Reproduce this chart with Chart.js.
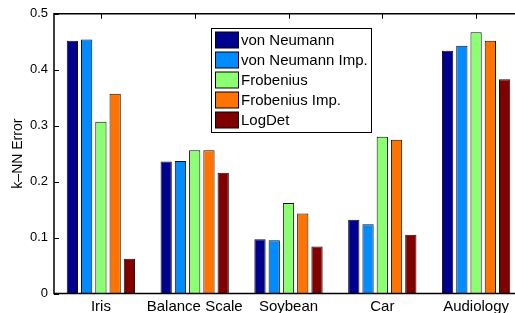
<!DOCTYPE html>
<html lang="en">
<head>
  <meta charset="UTF-8">
  <title>k-NN Error by dataset</title>
  <script src="https://cdn.jsdelivr.net/npm/chart.js"></script>
  <style>
    html, body { margin: 0; padding: 0; overflow: hidden; background: #fff; }
  </style>
</head>
<body>
  <canvas id="errChart"></canvas>

  <script>
    // data
    const datasetNames = ['Iris', 'Balance Scale', 'Soybean', 'Car', 'Audiology'];
    const seriesNames = ['von Neumann', 'von Neumann Imp.', 'Frobenius', 'Frobenius Imp.', 'LogDet'];
    const vonNeumann    = [0.452, 0.236, 0.097, 0.132, 0.434];
    const vonNeumannImp = [0.454, 0.237, 0.095, 0.124, 0.443];
    const frobenius     = [0.307, 0.256, 0.162, 0.280, 0.467];
    const frobeniusImp  = [0.357, 0.256, 0.143, 0.275, 0.452];
    const logDet        = [0.062, 0.216, 0.084, 0.105, 0.383];
    const yTicks = [0, 0.1, 0.2, 0.3, 0.4, 0.5];

    const seriesColors = ['#00008f', '#008cff', '#8cff73', '#ff7300', '#800000'];
    const FONT = '"Liberation Sans", Arial, Helvetica, sans-serif';

    const canvas = document.getElementById('errChart');
    canvas.width = 530;
    canvas.height = 313;
    canvas.style.width = '530px';
    canvas.style.height = '313px';

    // matlab-like box: axis lines plus inward ticks
    const axesBox = {
      id: 'axesBox',
      afterDatasetsDraw(chart) {
        const ctx = chart.ctx;
        const a = chart.chartArea;
        const xs = chart.scales.x;
        const ys = chart.scales.y;
        ctx.save();
        ctx.strokeStyle = '#000';
        ctx.lineWidth = 1.5;
        ctx.beginPath();
        ctx.moveTo(a.right, a.top);
        ctx.lineTo(a.left, a.top);
        ctx.lineTo(a.left, a.bottom);
        ctx.lineTo(a.right, a.bottom);
        ctx.stroke();

        ctx.lineWidth = 1;
        ctx.beginPath();
        yTicks.forEach(v => {
          const y = Math.round(ys.getPixelForValue(v)) + 0.5;
          ctx.moveTo(a.left, y);
          ctx.lineTo(a.left + 5, y);
        });
        datasetNames.forEach((_, i) => {
          const x = Math.round(xs.getPixelForTick(i)) + 0.5;
          ctx.moveTo(x, a.top);
          ctx.lineTo(x, a.top + 5);
        });
        ctx.stroke();
        ctx.restore();
      }
    };

    // legend box in the upper middle of the axes
    const boxLegend = {
      id: 'boxLegend',
      afterDraw(chart) {
        const ctx = chart.ctx;
        const bx = 211.5, by = 28.5, bw = 160, bh = 104;
        ctx.save();
        ctx.fillStyle = '#fff';
        ctx.fillRect(bx, by, bw, bh);
        ctx.strokeStyle = '#000';
        ctx.lineWidth = 1;
        ctx.strokeRect(bx, by, bw, bh);

        ctx.font = '15px ' + FONT;
        ctx.textBaseline = 'middle';
        ctx.textAlign = 'left';
        chart.data.datasets.forEach((ds, i) => {
          const cy = 40 + i * 20;
          ctx.fillStyle = ds.backgroundColor;
          ctx.fillRect(215.5, cy - 8, 23, 16);
          ctx.strokeStyle = '#000';
          ctx.strokeRect(215.5, cy - 8, 23, 16);
          ctx.fillStyle = '#000';
          ctx.fillText(ds.label, 241, cy + 1);
        });
        ctx.restore();
      }
    };

    const allSeries = [vonNeumann, vonNeumannImp, frobenius, frobeniusImp, logDet];

    new Chart(canvas.getContext('2d'), {
      type: 'bar',
      data: {
        labels: datasetNames,
        datasets: allSeries.map((vals, i) => ({
          label: seriesNames[i],
          data: vals,
          backgroundColor: seriesColors[i],
          borderColor: '#111',
          borderWidth: 1,
          categoryPercentage: 0.76,
          barPercentage: 0.79
        }))
      },
      options: {
        responsive: false,
        animation: false,
        devicePixelRatio: 1,
        layout: { padding: { left: 0, right: 7, top: 12.5, bottom: 0 } },
        plugins: {
          legend: { display: false },
          tooltip: { enabled: false }
        },
        scales: {
          x: {
            grid: { display: false, drawTicks: false },
            border: { display: false },
            ticks: { color: '#000', font: { family: FONT, size: 15 }, padding: 4, maxRotation: 0, autoSkip: false },
            afterFit(s) { s.height = 19.5; }
          },
          y: {
            min: 0,
            max: 0.5,
            afterBuildTicks(s) { s.ticks = yTicks.map(v => ({ value: v })); },
            grid: { display: false, drawTicks: false },
            border: { display: false },
            ticks: {
              color: '#000',
              font: { family: FONT, size: 13 },
              padding: 6,
              callback: v => String(v)
            },
            title: {
              display: true,
              text: 'k\u2013NN Error',
              color: '#000',
              font: { family: FONT, size: 14 },
              padding: { top: 10, bottom: 0 }
            },
            afterFit(s) { s.width = 54; }
          }
        }
      },
      plugins: [axesBox, boxLegend]
    });
  </script>
</body>
</html>
